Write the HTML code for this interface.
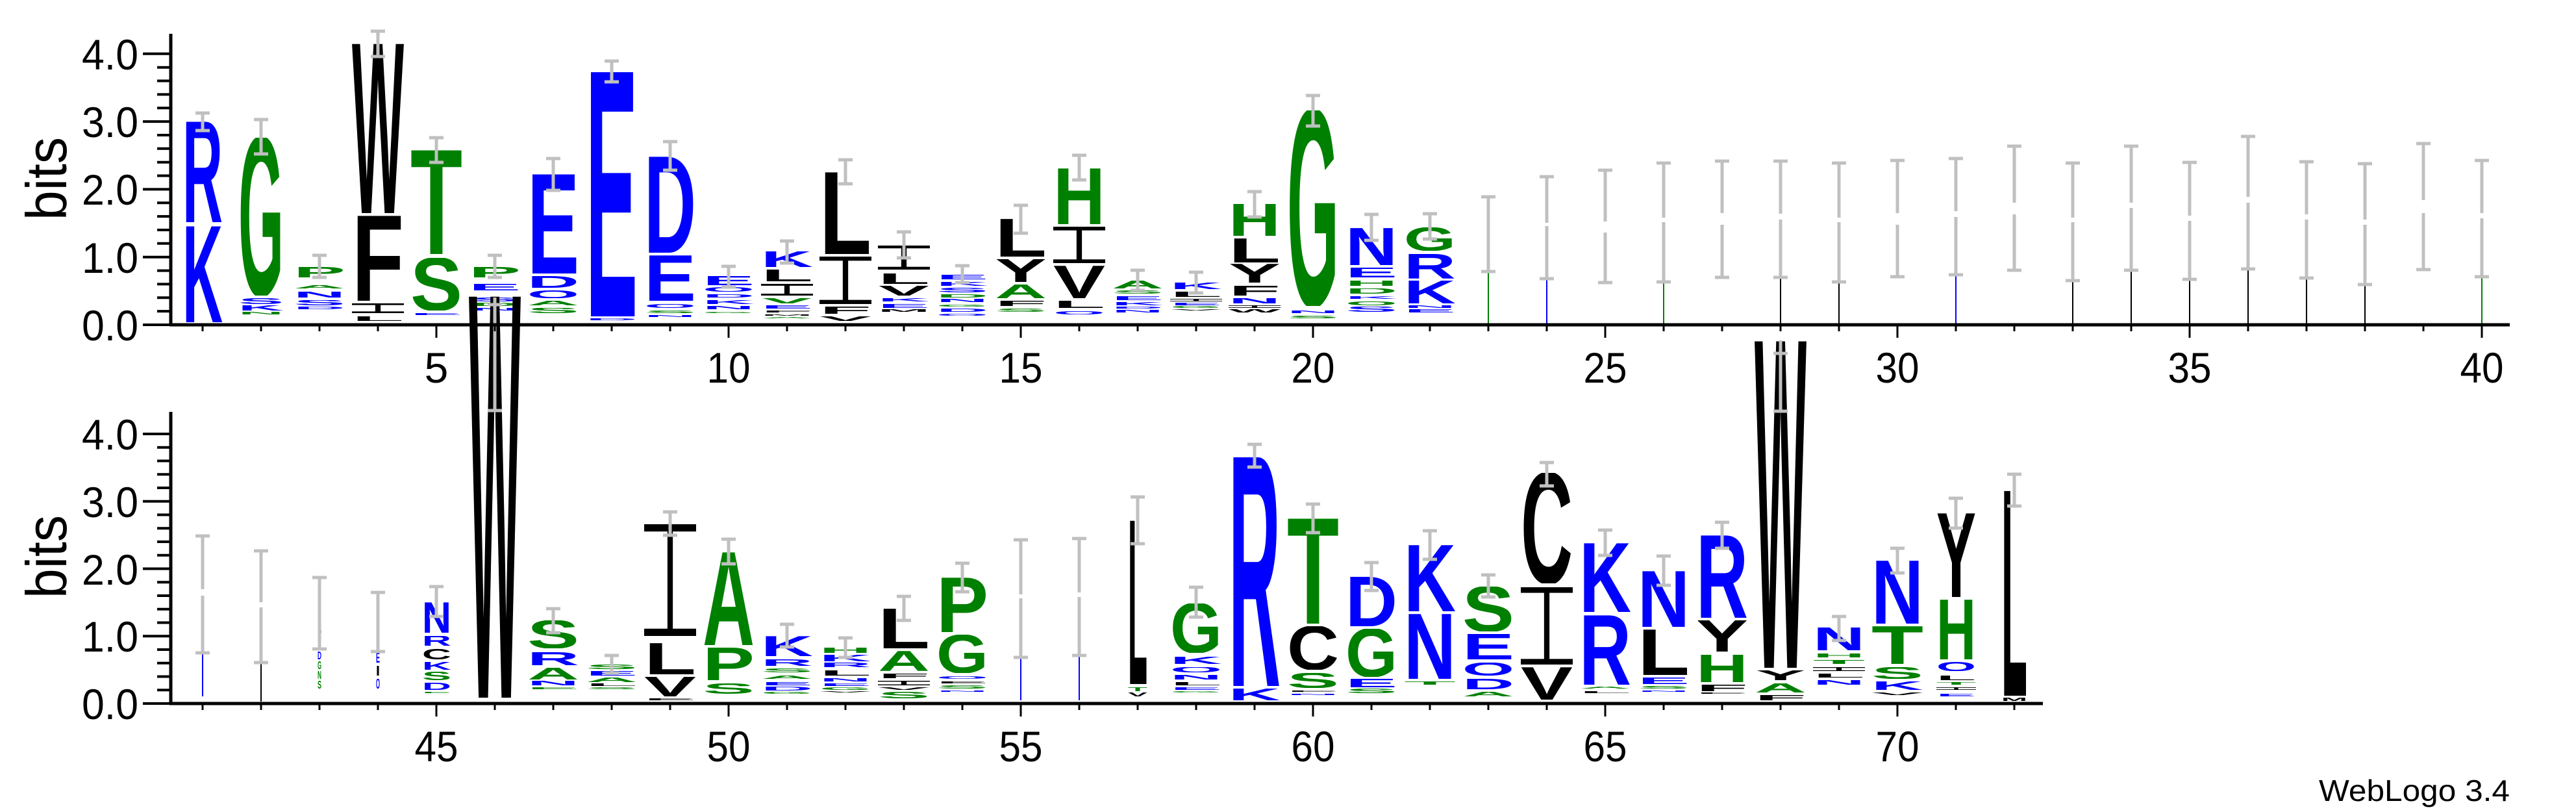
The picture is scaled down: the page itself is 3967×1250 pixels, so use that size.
<!DOCTYPE html>
<html><head><meta charset="utf-8"><style>
html,body{margin:0;padding:0;background:#fff;}
svg{display:block}
text{font-family:"Liberation Sans",Arial,sans-serif;}
.L text{font-weight:bold;font-size:100px;}
.b{fill:#0000ff}.g{fill:#008000}.k{fill:#000}
.ax{font-size:66px;fill:#000}
</style></head><body>
<svg width="3967" height="1250" viewBox="0 0 3967 1250" xmlns="http://www.w3.org/2000/svg">
<rect width="3967" height="1250" fill="#fff"/>
<g class="L">
<!-- top panel -->
<svg x="281" y="348" width="62" height="148" viewBox="0 -69 100 69" preserveAspectRatio="none"><text textLength="100" lengthAdjust="spacingAndGlyphs" class="b">K</text></svg>
<svg x="281" y="187" width="62" height="155" viewBox="0 -69 100 69" preserveAspectRatio="none"><text textLength="100" lengthAdjust="spacingAndGlyphs" class="b">R</text></svg>
<svg x="367" y="212" width="70" height="243" viewBox="0 -69 100 69" preserveAspectRatio="none"><text textLength="100" lengthAdjust="spacingAndGlyphs" class="g">G</text></svg>
<svg x="367" y="459" width="70" height="9" viewBox="0 -69 100 69" preserveAspectRatio="none"><text textLength="100" lengthAdjust="spacingAndGlyphs" class="b">S</text></svg>
<svg x="367" y="470" width="70" height="8" viewBox="0 -69 100 69" preserveAspectRatio="none"><text textLength="100" lengthAdjust="spacingAndGlyphs" class="b">K</text></svg>
<svg x="367" y="480" width="70" height="4" viewBox="0 -69 100 69" preserveAspectRatio="none"><text textLength="100" lengthAdjust="spacingAndGlyphs" class="g">N</text></svg>
<svg x="452" y="411" width="80" height="16" viewBox="0 -69 100 69" preserveAspectRatio="none"><text textLength="100" lengthAdjust="spacingAndGlyphs" class="g">P</text></svg>
<svg x="452" y="439" width="80" height="5" viewBox="0 -69 100 69" preserveAspectRatio="none"><text textLength="100" lengthAdjust="spacingAndGlyphs" class="g">A</text></svg>
<svg x="452" y="449" width="80" height="9" viewBox="0 -69 100 69" preserveAspectRatio="none"><text textLength="100" lengthAdjust="spacingAndGlyphs" class="b">N</text></svg>
<svg x="452" y="462" width="80" height="8" viewBox="0 -69 100 69" preserveAspectRatio="none"><text textLength="100" lengthAdjust="spacingAndGlyphs" class="b">S</text></svg>
<svg x="452" y="472" width="80" height="4" viewBox="0 -69 100 69" preserveAspectRatio="none"><text textLength="100" lengthAdjust="spacingAndGlyphs" class="b">D</text></svg>
<svg x="542" y="67" width="80" height="261" viewBox="0 -69 100 69" preserveAspectRatio="none"><text textLength="100" lengthAdjust="spacingAndGlyphs" class="k">W</text></svg>
<svg x="542" y="332" width="80" height="131" viewBox="0 -69 100 69" preserveAspectRatio="none"><text textLength="100" lengthAdjust="spacingAndGlyphs" class="k">F</text></svg>
<svg x="542" y="467" width="80" height="15" viewBox="0 -69 100 69" preserveAspectRatio="none"><rect y="-69" width="100" height="12"/><rect y="-12" width="100" height="12"/><text x="40" textLength="20" lengthAdjust="spacingAndGlyphs" class="k">I</text></svg>
<svg x="542" y="487" width="80" height="7" viewBox="0 -69 100 69" preserveAspectRatio="none"><text textLength="100" lengthAdjust="spacingAndGlyphs" class="k">L</text></svg>
<svg x="632" y="231" width="80" height="160" viewBox="0 -69 100 69" preserveAspectRatio="none"><text textLength="100" lengthAdjust="spacingAndGlyphs" class="g">T</text></svg>
<svg x="632" y="397" width="80" height="81" viewBox="0 -69 100 69" preserveAspectRatio="none"><text textLength="100" lengthAdjust="spacingAndGlyphs" class="g">S</text></svg>
<svg x="632" y="482" width="80" height="3" viewBox="0 -69 100 69" preserveAspectRatio="none"><text textLength="100" lengthAdjust="spacingAndGlyphs" class="b">E</text></svg>
<svg x="722" y="411" width="80" height="16" viewBox="0 -69 100 69" preserveAspectRatio="none"><text textLength="100" lengthAdjust="spacingAndGlyphs" class="g">P</text></svg>
<svg x="722" y="437" width="80" height="10" viewBox="0 -69 100 69" preserveAspectRatio="none"><text textLength="100" lengthAdjust="spacingAndGlyphs" class="b">E</text></svg>
<svg x="722" y="458" width="80" height="6" viewBox="0 -69 100 69" preserveAspectRatio="none"><text textLength="100" lengthAdjust="spacingAndGlyphs" class="b">S</text></svg>
<svg x="722" y="466" width="80" height="5" viewBox="0 -69 100 69" preserveAspectRatio="none"><text textLength="100" lengthAdjust="spacingAndGlyphs" class="g">D</text></svg>
<svg x="722" y="474" width="80" height="4" viewBox="0 -69 100 69" preserveAspectRatio="none"><text textLength="100" lengthAdjust="spacingAndGlyphs" class="b">N</text></svg>
<svg x="812" y="268" width="80" height="153" viewBox="0 -69 100 69" preserveAspectRatio="none"><text textLength="100" lengthAdjust="spacingAndGlyphs" class="b">E</text></svg>
<svg x="812" y="425" width="80" height="18" viewBox="0 -69 100 69" preserveAspectRatio="none"><text textLength="100" lengthAdjust="spacingAndGlyphs" class="b">D</text></svg>
<svg x="812" y="447" width="80" height="12" viewBox="0 -69 100 69" preserveAspectRatio="none"><text textLength="100" lengthAdjust="spacingAndGlyphs" class="b">Q</text></svg>
<svg x="812" y="463" width="80" height="7" viewBox="0 -69 100 69" preserveAspectRatio="none"><text textLength="100" lengthAdjust="spacingAndGlyphs" class="g">A</text></svg>
<svg x="812" y="474" width="80" height="8" viewBox="0 -69 100 69" preserveAspectRatio="none"><text textLength="100" lengthAdjust="spacingAndGlyphs" class="g">S</text></svg>
<svg x="902" y="110" width="80" height="377" viewBox="0 -69 100 69" preserveAspectRatio="none"><text textLength="100" lengthAdjust="spacingAndGlyphs" class="b">E</text></svg>
<svg x="902" y="490" width="80" height="3" viewBox="0 -69 100 69" preserveAspectRatio="none"><text textLength="100" lengthAdjust="spacingAndGlyphs" class="b">D</text></svg>
<svg x="992" y="241" width="80" height="148" viewBox="0 -69 100 69" preserveAspectRatio="none"><text textLength="100" lengthAdjust="spacingAndGlyphs" class="b">D</text></svg>
<svg x="992" y="393" width="80" height="70" viewBox="0 -69 100 69" preserveAspectRatio="none"><text textLength="100" lengthAdjust="spacingAndGlyphs" class="b">E</text></svg>
<svg x="992" y="468" width="80" height="6" viewBox="0 -69 100 69" preserveAspectRatio="none"><text textLength="100" lengthAdjust="spacingAndGlyphs" class="b">Q</text></svg>
<svg x="992" y="478" width="80" height="4" viewBox="0 -69 100 69" preserveAspectRatio="none"><text textLength="100" lengthAdjust="spacingAndGlyphs" class="g">S</text></svg>
<svg x="992" y="485" width="80" height="3" viewBox="0 -69 100 69" preserveAspectRatio="none"><text textLength="100" lengthAdjust="spacingAndGlyphs" class="b">N</text></svg>
<svg x="1082" y="425" width="80" height="14" viewBox="0 -69 100 69" preserveAspectRatio="none"><text textLength="100" lengthAdjust="spacingAndGlyphs" class="b">E</text></svg>
<svg x="1082" y="442" width="80" height="7" viewBox="0 -69 100 69" preserveAspectRatio="none"><text textLength="100" lengthAdjust="spacingAndGlyphs" class="b">Q</text></svg>
<svg x="1082" y="453" width="80" height="5" viewBox="0 -69 100 69" preserveAspectRatio="none"><text textLength="100" lengthAdjust="spacingAndGlyphs" class="b">D</text></svg>
<svg x="1082" y="462" width="80" height="6" viewBox="0 -69 100 69" preserveAspectRatio="none"><text textLength="100" lengthAdjust="spacingAndGlyphs" class="b">K</text></svg>
<svg x="1082" y="471" width="80" height="5" viewBox="0 -69 100 69" preserveAspectRatio="none"><text textLength="100" lengthAdjust="spacingAndGlyphs" class="b">N</text></svg>
<svg x="1082" y="480" width="80" height="2" viewBox="0 -69 100 69" preserveAspectRatio="none"><text textLength="100" lengthAdjust="spacingAndGlyphs" class="g">G</text></svg>
<svg x="1172" y="387" width="80" height="24" viewBox="0 -69 100 69" preserveAspectRatio="none"><text textLength="100" lengthAdjust="spacingAndGlyphs" class="b">K</text></svg>
<svg x="1172" y="415" width="80" height="18" viewBox="0 -69 100 69" preserveAspectRatio="none"><text textLength="100" lengthAdjust="spacingAndGlyphs" class="k">L</text></svg>
<svg x="1172" y="437" width="80" height="18" viewBox="0 -69 100 69" preserveAspectRatio="none"><rect y="-69" width="100" height="11"/><rect y="-11" width="100" height="11"/><text x="40" textLength="20" lengthAdjust="spacingAndGlyphs" class="k">I</text></svg>
<svg x="1172" y="459" width="80" height="8" viewBox="0 -69 100 69" preserveAspectRatio="none"><text textLength="100" lengthAdjust="spacingAndGlyphs" class="g">V</text></svg>
<svg x="1172" y="470" width="80" height="5" viewBox="0 -69 100 69" preserveAspectRatio="none"><text textLength="100" lengthAdjust="spacingAndGlyphs" class="b">E</text></svg>
<svg x="1172" y="478" width="80" height="3" viewBox="0 -69 100 69" preserveAspectRatio="none"><text textLength="100" lengthAdjust="spacingAndGlyphs" class="k">F</text></svg>
<svg x="1172" y="484" width="80" height="2" viewBox="0 -69 100 69" preserveAspectRatio="none"><text textLength="100" lengthAdjust="spacingAndGlyphs" class="k">M</text></svg>
<svg x="1172" y="488" width="80" height="2" viewBox="0 -69 100 69" preserveAspectRatio="none"><text textLength="100" lengthAdjust="spacingAndGlyphs" class="g">A</text></svg>
<svg x="1262" y="265" width="80" height="126" viewBox="0 -69 100 69" preserveAspectRatio="none"><text textLength="100" lengthAdjust="spacingAndGlyphs" class="k">L</text></svg>
<svg x="1262" y="395" width="80" height="73" viewBox="0 -69 100 69" preserveAspectRatio="none"><rect y="-69" width="100" height="6"/><rect y="-6" width="100" height="6"/><text x="40" textLength="20" lengthAdjust="spacingAndGlyphs" class="k">I</text></svg>
<svg x="1262" y="472" width="80" height="11" viewBox="0 -69 100 69" preserveAspectRatio="none"><text textLength="100" lengthAdjust="spacingAndGlyphs" class="k">F</text></svg>
<svg x="1262" y="487" width="80" height="7" viewBox="0 -69 100 69" preserveAspectRatio="none"><text textLength="100" lengthAdjust="spacingAndGlyphs" class="k">V</text></svg>
<svg x="1352" y="378" width="80" height="37" viewBox="0 -69 100 69" preserveAspectRatio="none"><rect y="-69" width="100" height="8"/><rect y="-8" width="100" height="8"/><text x="40" textLength="20" lengthAdjust="spacingAndGlyphs" class="k">I</text></svg>
<svg x="1352" y="421" width="80" height="16" viewBox="0 -69 100 69" preserveAspectRatio="none"><text textLength="100" lengthAdjust="spacingAndGlyphs" class="k">L</text></svg>
<svg x="1352" y="440" width="80" height="15" viewBox="0 -69 100 69" preserveAspectRatio="none"><text textLength="100" lengthAdjust="spacingAndGlyphs" class="k">V</text></svg>
<svg x="1352" y="459" width="80" height="5" viewBox="0 -69 100 69" preserveAspectRatio="none"><text textLength="100" lengthAdjust="spacingAndGlyphs" class="b">K</text></svg>
<svg x="1352" y="468" width="80" height="6" viewBox="0 -69 100 69" preserveAspectRatio="none"><text textLength="100" lengthAdjust="spacingAndGlyphs" class="b">E</text></svg>
<svg x="1352" y="476" width="80" height="4" viewBox="0 -69 100 69" preserveAspectRatio="none"><text textLength="100" lengthAdjust="spacingAndGlyphs" class="k">M</text></svg>
<svg x="1442" y="423" width="80" height="7" viewBox="0 -69 100 69" preserveAspectRatio="none"><text textLength="100" lengthAdjust="spacingAndGlyphs" class="b">E</text></svg>
<svg x="1442" y="434" width="80" height="6" viewBox="0 -69 100 69" preserveAspectRatio="none"><text textLength="100" lengthAdjust="spacingAndGlyphs" class="b">K</text></svg>
<svg x="1442" y="443" width="80" height="7" viewBox="0 -69 100 69" preserveAspectRatio="none"><text textLength="100" lengthAdjust="spacingAndGlyphs" class="b">S</text></svg>
<svg x="1442" y="453" width="80" height="5" viewBox="0 -69 100 69" preserveAspectRatio="none"><text textLength="100" lengthAdjust="spacingAndGlyphs" class="g">D</text></svg>
<svg x="1442" y="460" width="80" height="5" viewBox="0 -69 100 69" preserveAspectRatio="none"><text textLength="100" lengthAdjust="spacingAndGlyphs" class="b">N</text></svg>
<svg x="1442" y="469" width="80" height="3" viewBox="0 -69 100 69" preserveAspectRatio="none"><text textLength="100" lengthAdjust="spacingAndGlyphs" class="g">G</text></svg>
<svg x="1442" y="475" width="80" height="5" viewBox="0 -69 100 69" preserveAspectRatio="none"><text textLength="100" lengthAdjust="spacingAndGlyphs" class="b">D</text></svg>
<svg x="1442" y="483" width="80" height="3" viewBox="0 -69 100 69" preserveAspectRatio="none"><text textLength="100" lengthAdjust="spacingAndGlyphs" class="b">Q</text></svg>
<svg x="1532" y="337" width="80" height="58" viewBox="0 -69 100 69" preserveAspectRatio="none"><text textLength="100" lengthAdjust="spacingAndGlyphs" class="k">L</text></svg>
<svg x="1532" y="399" width="80" height="35" viewBox="0 -69 100 69" preserveAspectRatio="none"><text textLength="100" lengthAdjust="spacingAndGlyphs" class="k">Y</text></svg>
<svg x="1532" y="438" width="80" height="21" viewBox="0 -69 100 69" preserveAspectRatio="none"><text textLength="100" lengthAdjust="spacingAndGlyphs" class="g">A</text></svg>
<svg x="1532" y="463" width="80" height="8" viewBox="0 -69 100 69" preserveAspectRatio="none"><text textLength="100" lengthAdjust="spacingAndGlyphs" class="k">F</text></svg>
<svg x="1532" y="475" width="80" height="5" viewBox="0 -69 100 69" preserveAspectRatio="none"><text textLength="100" lengthAdjust="spacingAndGlyphs" class="g">S</text></svg>
<svg x="1622" y="259" width="80" height="86" viewBox="0 -69 100 69" preserveAspectRatio="none"><text textLength="100" lengthAdjust="spacingAndGlyphs" class="g">H</text></svg>
<svg x="1622" y="349" width="80" height="56" viewBox="0 -69 100 69" preserveAspectRatio="none"><rect y="-69" width="100" height="7"/><rect y="-7" width="100" height="7"/><text x="40" textLength="20" lengthAdjust="spacingAndGlyphs" class="k">I</text></svg>
<svg x="1622" y="409" width="80" height="50" viewBox="0 -69 100 69" preserveAspectRatio="none"><text textLength="100" lengthAdjust="spacingAndGlyphs" class="k">V</text></svg>
<svg x="1622" y="463" width="80" height="11" viewBox="0 -69 100 69" preserveAspectRatio="none"><text textLength="100" lengthAdjust="spacingAndGlyphs" class="k">L</text></svg>
<svg x="1622" y="479" width="80" height="5" viewBox="0 -69 100 69" preserveAspectRatio="none"><text textLength="100" lengthAdjust="spacingAndGlyphs" class="b">Q</text></svg>
<svg x="1712" y="432" width="80" height="12" viewBox="0 -69 100 69" preserveAspectRatio="none"><text textLength="100" lengthAdjust="spacingAndGlyphs" class="g">A</text></svg>
<svg x="1712" y="447" width="80" height="5" viewBox="0 -69 100 69" preserveAspectRatio="none"><text textLength="100" lengthAdjust="spacingAndGlyphs" class="g">S</text></svg>
<svg x="1712" y="456" width="80" height="6" viewBox="0 -69 100 69" preserveAspectRatio="none"><text textLength="100" lengthAdjust="spacingAndGlyphs" class="b">E</text></svg>
<svg x="1712" y="465" width="80" height="5" viewBox="0 -69 100 69" preserveAspectRatio="none"><text textLength="100" lengthAdjust="spacingAndGlyphs" class="b">K</text></svg>
<svg x="1712" y="472" width="80" height="3" viewBox="0 -69 100 69" preserveAspectRatio="none"><text textLength="100" lengthAdjust="spacingAndGlyphs" class="b">D</text></svg>
<svg x="1712" y="477" width="80" height="4" viewBox="0 -69 100 69" preserveAspectRatio="none"><text textLength="100" lengthAdjust="spacingAndGlyphs" class="b">N</text></svg>
<svg x="1802" y="435" width="80" height="10" viewBox="0 -69 100 69" preserveAspectRatio="none"><text textLength="100" lengthAdjust="spacingAndGlyphs" class="b">K</text></svg>
<svg x="1802" y="449" width="80" height="8" viewBox="0 -69 100 69" preserveAspectRatio="none"><text textLength="100" lengthAdjust="spacingAndGlyphs" class="k">L</text></svg>
<svg x="1802" y="460" width="80" height="4" viewBox="0 -69 100 69" preserveAspectRatio="none"><rect y="-69" width="100" height="15"/><rect y="-15" width="100" height="15"/><text x="40" textLength="20" lengthAdjust="spacingAndGlyphs" class="k">I</text></svg>
<svg x="1802" y="466" width="80" height="4" viewBox="0 -69 100 69" preserveAspectRatio="none"><text textLength="100" lengthAdjust="spacingAndGlyphs" class="b">E</text></svg>
<svg x="1802" y="471" width="80" height="3" viewBox="0 -69 100 69" preserveAspectRatio="none"><text textLength="100" lengthAdjust="spacingAndGlyphs" class="g">G</text></svg>
<svg x="1802" y="476" width="80" height="2" viewBox="0 -69 100 69" preserveAspectRatio="none"><text textLength="100" lengthAdjust="spacingAndGlyphs" class="k">V</text></svg>
<svg x="1892" y="314" width="80" height="49" viewBox="0 -69 100 69" preserveAspectRatio="none"><text textLength="100" lengthAdjust="spacingAndGlyphs" class="g">H</text></svg>
<svg x="1892" y="367" width="80" height="37" viewBox="0 -69 100 69" preserveAspectRatio="none"><text textLength="100" lengthAdjust="spacingAndGlyphs" class="k">L</text></svg>
<svg x="1892" y="406" width="80" height="29" viewBox="0 -69 100 69" preserveAspectRatio="none"><text textLength="100" lengthAdjust="spacingAndGlyphs" class="k">Y</text></svg>
<svg x="1892" y="440" width="80" height="15" viewBox="0 -69 100 69" preserveAspectRatio="none"><text textLength="100" lengthAdjust="spacingAndGlyphs" class="k">F</text></svg>
<svg x="1892" y="459" width="80" height="8" viewBox="0 -69 100 69" preserveAspectRatio="none"><text textLength="100" lengthAdjust="spacingAndGlyphs" class="b">N</text></svg>
<svg x="1892" y="470" width="80" height="4" viewBox="0 -69 100 69" preserveAspectRatio="none"><rect y="-69" width="100" height="15"/><rect y="-15" width="100" height="15"/><text x="40" textLength="20" lengthAdjust="spacingAndGlyphs" class="k">I</text></svg>
<svg x="1892" y="476" width="80" height="5" viewBox="0 -69 100 69" preserveAspectRatio="none"><text textLength="100" lengthAdjust="spacingAndGlyphs" class="k">W</text></svg>
<svg x="1982" y="170" width="80" height="301" viewBox="0 -69 100 69" preserveAspectRatio="none"><text textLength="100" lengthAdjust="spacingAndGlyphs" class="g">G</text></svg>
<svg x="1982" y="478" width="80" height="4" viewBox="0 -69 100 69" preserveAspectRatio="none"><text textLength="100" lengthAdjust="spacingAndGlyphs" class="b">N</text></svg>
<svg x="1982" y="486" width="80" height="4" viewBox="0 -69 100 69" preserveAspectRatio="none"><text textLength="100" lengthAdjust="spacingAndGlyphs" class="g">S</text></svg>
<svg x="2072" y="351" width="80" height="57" viewBox="0 -69 100 69" preserveAspectRatio="none"><text textLength="100" lengthAdjust="spacingAndGlyphs" class="b">N</text></svg>
<svg x="2072" y="412" width="80" height="15" viewBox="0 -69 100 69" preserveAspectRatio="none"><text textLength="100" lengthAdjust="spacingAndGlyphs" class="b">E</text></svg>
<svg x="2072" y="432" width="80" height="8" viewBox="0 -69 100 69" preserveAspectRatio="none"><text textLength="100" lengthAdjust="spacingAndGlyphs" class="g">H</text></svg>
<svg x="2072" y="444" width="80" height="8" viewBox="0 -69 100 69" preserveAspectRatio="none"><text textLength="100" lengthAdjust="spacingAndGlyphs" class="g">D</text></svg>
<svg x="2072" y="456" width="80" height="4" viewBox="0 -69 100 69" preserveAspectRatio="none"><text textLength="100" lengthAdjust="spacingAndGlyphs" class="b">K</text></svg>
<svg x="2072" y="464" width="80" height="6" viewBox="0 -69 100 69" preserveAspectRatio="none"><text textLength="100" lengthAdjust="spacingAndGlyphs" class="g">Q</text></svg>
<svg x="2072" y="472" width="80" height="8" viewBox="0 -69 100 69" preserveAspectRatio="none"><text textLength="100" lengthAdjust="spacingAndGlyphs" class="b">S</text></svg>
<svg x="2162" y="350" width="80" height="36" viewBox="0 -69 100 69" preserveAspectRatio="none"><text textLength="100" lengthAdjust="spacingAndGlyphs" class="g">G</text></svg>
<svg x="2162" y="391" width="80" height="38" viewBox="0 -69 100 69" preserveAspectRatio="none"><text textLength="100" lengthAdjust="spacingAndGlyphs" class="b">R</text></svg>
<svg x="2162" y="432" width="80" height="35" viewBox="0 -69 100 69" preserveAspectRatio="none"><text textLength="100" lengthAdjust="spacingAndGlyphs" class="b">K</text></svg>
<svg x="2162" y="470" width="80" height="4" viewBox="0 -69 100 69" preserveAspectRatio="none"><text textLength="100" lengthAdjust="spacingAndGlyphs" class="b">N</text></svg>
<svg x="2162" y="476" width="80" height="5" viewBox="0 -69 100 69" preserveAspectRatio="none"><text textLength="100" lengthAdjust="spacingAndGlyphs" class="b">E</text></svg>

<!-- bottom panel -->
<svg x="489" y="945" width="6" height="30" viewBox="0 -69 100 69" preserveAspectRatio="none"><text textLength="100" lengthAdjust="spacingAndGlyphs" class="b">L</text></svg>
<svg x="489" y="980" width="6" height="20" viewBox="0 -69 100 69" preserveAspectRatio="none"><text textLength="100" lengthAdjust="spacingAndGlyphs" class="b">K</text></svg>
<svg x="489" y="1003" width="6" height="12" viewBox="0 -69 100 69" preserveAspectRatio="none"><text textLength="100" lengthAdjust="spacingAndGlyphs" class="b">D</text></svg>
<svg x="489" y="1018" width="6" height="12" viewBox="0 -69 100 69" preserveAspectRatio="none"><text textLength="100" lengthAdjust="spacingAndGlyphs" class="g">G</text></svg>
<svg x="489" y="1033" width="6" height="12" viewBox="0 -69 100 69" preserveAspectRatio="none"><text textLength="100" lengthAdjust="spacingAndGlyphs" class="g">N</text></svg>
<svg x="489" y="1048" width="6" height="12" viewBox="0 -69 100 69" preserveAspectRatio="none"><text textLength="100" lengthAdjust="spacingAndGlyphs" class="g">S</text></svg>
<svg x="579" y="960" width="6" height="40" viewBox="0 -69 100 69" preserveAspectRatio="none"><text textLength="100" lengthAdjust="spacingAndGlyphs" class="b">N</text></svg>
<svg x="579" y="1005" width="6" height="15" viewBox="0 -69 100 69" preserveAspectRatio="none"><text textLength="100" lengthAdjust="spacingAndGlyphs" class="b">E</text></svg>
<svg x="579" y="1025" width="6" height="15" viewBox="0 -69 100 69" preserveAspectRatio="none"><text textLength="100" lengthAdjust="spacingAndGlyphs" class="k">I</text></svg>
<svg x="579" y="1045" width="6" height="15" viewBox="0 -69 100 69" preserveAspectRatio="none"><text textLength="100" lengthAdjust="spacingAndGlyphs" class="b">Q</text></svg>
<svg x="650" y="927" width="45" height="47" viewBox="0 -69 100 69" preserveAspectRatio="none"><text textLength="100" lengthAdjust="spacingAndGlyphs" class="b">N</text></svg>
<svg x="650" y="979" width="45" height="15" viewBox="0 -69 100 69" preserveAspectRatio="none"><text textLength="100" lengthAdjust="spacingAndGlyphs" class="b">R</text></svg>
<svg x="650" y="999" width="45" height="16" viewBox="0 -69 100 69" preserveAspectRatio="none"><text textLength="100" lengthAdjust="spacingAndGlyphs" class="k">C</text></svg>
<svg x="650" y="1019" width="45" height="12" viewBox="0 -69 100 69" preserveAspectRatio="none"><text textLength="100" lengthAdjust="spacingAndGlyphs" class="b">K</text></svg>
<svg x="650" y="1034" width="45" height="13" viewBox="0 -69 100 69" preserveAspectRatio="none"><text textLength="100" lengthAdjust="spacingAndGlyphs" class="g">S</text></svg>
<svg x="650" y="1051" width="45" height="11" viewBox="0 -69 100 69" preserveAspectRatio="none"><text textLength="100" lengthAdjust="spacingAndGlyphs" class="b">D</text></svg>
<svg x="650" y="1065" width="45" height="2" viewBox="0 -69 100 69" preserveAspectRatio="none"><text textLength="100" lengthAdjust="spacingAndGlyphs" class="g">E</text></svg>
<svg x="722" y="455" width="80" height="619" viewBox="0 -69 100 69" preserveAspectRatio="none"><text textLength="100" lengthAdjust="spacingAndGlyphs" class="k">W</text></svg>
<svg x="812" y="955" width="80" height="43" viewBox="0 -69 100 69" preserveAspectRatio="none"><text textLength="100" lengthAdjust="spacingAndGlyphs" class="g">S</text></svg>
<svg x="812" y="1004" width="80" height="20" viewBox="0 -69 100 69" preserveAspectRatio="none"><text textLength="100" lengthAdjust="spacingAndGlyphs" class="b">R</text></svg>
<svg x="812" y="1028" width="80" height="18" viewBox="0 -69 100 69" preserveAspectRatio="none"><text textLength="100" lengthAdjust="spacingAndGlyphs" class="g">A</text></svg>
<svg x="812" y="1048" width="80" height="7" viewBox="0 -69 100 69" preserveAspectRatio="none"><text textLength="100" lengthAdjust="spacingAndGlyphs" class="b">N</text></svg>
<svg x="812" y="1058" width="80" height="3" viewBox="0 -69 100 69" preserveAspectRatio="none"><text textLength="100" lengthAdjust="spacingAndGlyphs" class="g">E</text></svg>
<svg x="902" y="1023" width="80" height="7" viewBox="0 -69 100 69" preserveAspectRatio="none"><text textLength="100" lengthAdjust="spacingAndGlyphs" class="g">S</text></svg>
<svg x="902" y="1033" width="80" height="7" viewBox="0 -69 100 69" preserveAspectRatio="none"><text textLength="100" lengthAdjust="spacingAndGlyphs" class="b">E</text></svg>
<svg x="902" y="1043" width="80" height="7" viewBox="0 -69 100 69" preserveAspectRatio="none"><text textLength="100" lengthAdjust="spacingAndGlyphs" class="g">A</text></svg>
<svg x="902" y="1052" width="80" height="4" viewBox="0 -69 100 69" preserveAspectRatio="none"><text textLength="100" lengthAdjust="spacingAndGlyphs" class="k">L</text></svg>
<svg x="902" y="1058" width="80" height="3" viewBox="0 -69 100 69" preserveAspectRatio="none"><text textLength="100" lengthAdjust="spacingAndGlyphs" class="g">S</text></svg>
<svg x="992" y="807" width="80" height="172" viewBox="0 -69 100 69" preserveAspectRatio="none"><rect y="-69" width="100" height="4.5"/><rect y="-4.5" width="100" height="4.5"/><text x="40" textLength="20" lengthAdjust="spacingAndGlyphs" class="k">I</text></svg>
<svg x="992" y="990" width="80" height="48" viewBox="0 -69 100 69" preserveAspectRatio="none"><text textLength="100" lengthAdjust="spacingAndGlyphs" class="k">L</text></svg>
<svg x="992" y="1042" width="80" height="30" viewBox="0 -69 100 69" preserveAspectRatio="none"><text textLength="100" lengthAdjust="spacingAndGlyphs" class="k">V</text></svg>
<svg x="992" y="1075" width="80" height="3" viewBox="0 -69 100 69" preserveAspectRatio="none"><text textLength="100" lengthAdjust="spacingAndGlyphs" class="k">E</text></svg>
<svg x="1082" y="850" width="80" height="143" viewBox="0 -69 100 69" preserveAspectRatio="none"><text textLength="100" lengthAdjust="spacingAndGlyphs" class="g">A</text></svg>
<svg x="1082" y="997" width="80" height="50" viewBox="0 -69 100 69" preserveAspectRatio="none"><text textLength="100" lengthAdjust="spacingAndGlyphs" class="g">P</text></svg>
<svg x="1082" y="1052" width="80" height="16" viewBox="0 -69 100 69" preserveAspectRatio="none"><text textLength="100" lengthAdjust="spacingAndGlyphs" class="g">S</text></svg>
<svg x="1172" y="979" width="80" height="31" viewBox="0 -69 100 69" preserveAspectRatio="none"><text textLength="100" lengthAdjust="spacingAndGlyphs" class="b">K</text></svg>
<svg x="1172" y="1015" width="80" height="10" viewBox="0 -69 100 69" preserveAspectRatio="none"><text textLength="100" lengthAdjust="spacingAndGlyphs" class="b">R</text></svg>
<svg x="1172" y="1029" width="80" height="6" viewBox="0 -69 100 69" preserveAspectRatio="none"><text textLength="100" lengthAdjust="spacingAndGlyphs" class="g">S</text></svg>
<svg x="1172" y="1040" width="80" height="5" viewBox="0 -69 100 69" preserveAspectRatio="none"><text textLength="100" lengthAdjust="spacingAndGlyphs" class="g">A</text></svg>
<svg x="1172" y="1050" width="80" height="5" viewBox="0 -69 100 69" preserveAspectRatio="none"><text textLength="100" lengthAdjust="spacingAndGlyphs" class="b">E</text></svg>
<svg x="1172" y="1057" width="80" height="6" viewBox="0 -69 100 69" preserveAspectRatio="none"><text textLength="100" lengthAdjust="spacingAndGlyphs" class="b">D</text></svg>
<svg x="1172" y="1065" width="80" height="3" viewBox="0 -69 100 69" preserveAspectRatio="none"><text textLength="100" lengthAdjust="spacingAndGlyphs" class="g">G</text></svg>
<svg x="1262" y="997" width="80" height="8" viewBox="0 -69 100 69" preserveAspectRatio="none"><text textLength="100" lengthAdjust="spacingAndGlyphs" class="g">H</text></svg>
<svg x="1262" y="1008" width="80" height="10" viewBox="0 -69 100 69" preserveAspectRatio="none"><text textLength="100" lengthAdjust="spacingAndGlyphs" class="b">K</text></svg>
<svg x="1262" y="1020" width="80" height="7" viewBox="0 -69 100 69" preserveAspectRatio="none"><text textLength="100" lengthAdjust="spacingAndGlyphs" class="b">R</text></svg>
<svg x="1262" y="1032" width="80" height="8" viewBox="0 -69 100 69" preserveAspectRatio="none"><text textLength="100" lengthAdjust="spacingAndGlyphs" class="k">L</text></svg>
<svg x="1262" y="1044" width="80" height="5" viewBox="0 -69 100 69" preserveAspectRatio="none"><text textLength="100" lengthAdjust="spacingAndGlyphs" class="b">N</text></svg>
<svg x="1262" y="1052" width="80" height="4" viewBox="0 -69 100 69" preserveAspectRatio="none"><text textLength="100" lengthAdjust="spacingAndGlyphs" class="b">E</text></svg>
<svg x="1262" y="1058" width="80" height="4" viewBox="0 -69 100 69" preserveAspectRatio="none"><text textLength="100" lengthAdjust="spacingAndGlyphs" class="g">G</text></svg>
<svg x="1262" y="1064" width="80" height="2" viewBox="0 -69 100 69" preserveAspectRatio="none"><text textLength="100" lengthAdjust="spacingAndGlyphs" class="k">V</text></svg>
<svg x="1352" y="937" width="80" height="61" viewBox="0 -69 100 69" preserveAspectRatio="none"><text textLength="100" lengthAdjust="spacingAndGlyphs" class="k">L</text></svg>
<svg x="1352" y="1002" width="80" height="31" viewBox="0 -69 100 69" preserveAspectRatio="none"><text textLength="100" lengthAdjust="spacingAndGlyphs" class="g">A</text></svg>
<svg x="1352" y="1037" width="80" height="7" viewBox="0 -69 100 69" preserveAspectRatio="none"><text textLength="100" lengthAdjust="spacingAndGlyphs" class="k">F</text></svg>
<svg x="1352" y="1048" width="80" height="7" viewBox="0 -69 100 69" preserveAspectRatio="none"><rect y="-69" width="100" height="14"/><rect y="-14" width="100" height="14"/><text x="40" textLength="20" lengthAdjust="spacingAndGlyphs" class="k">I</text></svg>
<svg x="1352" y="1058" width="80" height="4" viewBox="0 -69 100 69" preserveAspectRatio="none"><text textLength="100" lengthAdjust="spacingAndGlyphs" class="k">V</text></svg>
<svg x="1352" y="1065" width="80" height="10" viewBox="0 -69 100 69" preserveAspectRatio="none"><text textLength="100" lengthAdjust="spacingAndGlyphs" class="g">S</text></svg>
<svg x="1442" y="889" width="80" height="84" viewBox="0 -69 100 69" preserveAspectRatio="none"><text textLength="100" lengthAdjust="spacingAndGlyphs" class="g">P</text></svg>
<svg x="1442" y="977" width="80" height="59" viewBox="0 -69 100 69" preserveAspectRatio="none"><text textLength="100" lengthAdjust="spacingAndGlyphs" class="g">G</text></svg>
<svg x="1442" y="1041" width="80" height="4" viewBox="0 -69 100 69" preserveAspectRatio="none"><text textLength="100" lengthAdjust="spacingAndGlyphs" class="b">Q</text></svg>
<svg x="1442" y="1049" width="80" height="3" viewBox="0 -69 100 69" preserveAspectRatio="none"><text textLength="100" lengthAdjust="spacingAndGlyphs" class="k">E</text></svg>
<svg x="1442" y="1055" width="80" height="5" viewBox="0 -69 100 69" preserveAspectRatio="none"><text textLength="100" lengthAdjust="spacingAndGlyphs" class="g">S</text></svg>
<svg x="1442" y="1063" width="80" height="2" viewBox="0 -69 100 69" preserveAspectRatio="none"><text textLength="100" lengthAdjust="spacingAndGlyphs" class="b">N</text></svg>
<svg x="1737" y="801" width="30" height="252" viewBox="0 -69 100 69" preserveAspectRatio="none"><text textLength="100" lengthAdjust="spacingAndGlyphs" class="k">L</text></svg>
<svg x="1737" y="1058" width="30" height="6" viewBox="0 -69 100 69" preserveAspectRatio="none"><text textLength="100" lengthAdjust="spacingAndGlyphs" class="g">T</text></svg>
<svg x="1737" y="1066" width="30" height="6" viewBox="0 -69 100 69" preserveAspectRatio="none"><text textLength="100" lengthAdjust="spacingAndGlyphs" class="k">V</text></svg>
<svg x="1802" y="929" width="80" height="76" viewBox="0 -69 100 69" preserveAspectRatio="none"><text textLength="100" lengthAdjust="spacingAndGlyphs" class="g">G</text></svg>
<svg x="1802" y="1011" width="80" height="11" viewBox="0 -69 100 69" preserveAspectRatio="none"><text textLength="100" lengthAdjust="spacingAndGlyphs" class="b">K</text></svg>
<svg x="1802" y="1027" width="80" height="8" viewBox="0 -69 100 69" preserveAspectRatio="none"><text textLength="100" lengthAdjust="spacingAndGlyphs" class="b">Q</text></svg>
<svg x="1802" y="1039" width="80" height="7" viewBox="0 -69 100 69" preserveAspectRatio="none"><text textLength="100" lengthAdjust="spacingAndGlyphs" class="b">N</text></svg>
<svg x="1802" y="1050" width="80" height="5" viewBox="0 -69 100 69" preserveAspectRatio="none"><text textLength="100" lengthAdjust="spacingAndGlyphs" class="k">L</text></svg>
<svg x="1802" y="1058" width="80" height="4" viewBox="0 -69 100 69" preserveAspectRatio="none"><text textLength="100" lengthAdjust="spacingAndGlyphs" class="b">E</text></svg>
<svg x="1802" y="1064" width="80" height="2" viewBox="0 -69 100 69" preserveAspectRatio="none"><text textLength="100" lengthAdjust="spacingAndGlyphs" class="g">G</text></svg>
<svg x="1892" y="703" width="80" height="353" viewBox="0 -69 100 69" preserveAspectRatio="none"><text textLength="100" lengthAdjust="spacingAndGlyphs" class="b">R</text></svg>
<svg x="1892" y="1060" width="80" height="18" viewBox="0 -69 100 69" preserveAspectRatio="none"><text textLength="100" lengthAdjust="spacingAndGlyphs" class="b">K</text></svg>
<svg x="1982" y="798" width="80" height="162" viewBox="0 -69 100 69" preserveAspectRatio="none"><text textLength="100" lengthAdjust="spacingAndGlyphs" class="g">T</text></svg>
<svg x="1982" y="964" width="80" height="67" viewBox="0 -69 100 69" preserveAspectRatio="none"><text textLength="100" lengthAdjust="spacingAndGlyphs" class="k">C</text></svg>
<svg x="1982" y="1036" width="80" height="23" viewBox="0 -69 100 69" preserveAspectRatio="none"><text textLength="100" lengthAdjust="spacingAndGlyphs" class="g">S</text></svg>
<svg x="1982" y="1063" width="80" height="2" viewBox="0 -69 100 69" preserveAspectRatio="none"><text textLength="100" lengthAdjust="spacingAndGlyphs" class="k">E</text></svg>
<svg x="1982" y="1068" width="80" height="2" viewBox="0 -69 100 69" preserveAspectRatio="none"><text textLength="100" lengthAdjust="spacingAndGlyphs" class="b">N</text></svg>
<svg x="2072" y="888" width="80" height="76" viewBox="0 -69 100 69" preserveAspectRatio="none"><text textLength="100" lengthAdjust="spacingAndGlyphs" class="b">D</text></svg>
<svg x="2072" y="968" width="80" height="74" viewBox="0 -69 100 69" preserveAspectRatio="none"><text textLength="100" lengthAdjust="spacingAndGlyphs" class="g">G</text></svg>
<svg x="2072" y="1045" width="80" height="13" viewBox="0 -69 100 69" preserveAspectRatio="none"><text textLength="100" lengthAdjust="spacingAndGlyphs" class="b">E</text></svg>
<svg x="2072" y="1060" width="80" height="7" viewBox="0 -69 100 69" preserveAspectRatio="none"><text textLength="100" lengthAdjust="spacingAndGlyphs" class="g">S</text></svg>
<svg x="2162" y="839" width="80" height="102" viewBox="0 -69 100 69" preserveAspectRatio="none"><text textLength="100" lengthAdjust="spacingAndGlyphs" class="b">K</text></svg>
<svg x="2162" y="945" width="80" height="100" viewBox="0 -69 100 69" preserveAspectRatio="none"><text textLength="100" lengthAdjust="spacingAndGlyphs" class="b">N</text></svg>
<svg x="2162" y="1049" width="80" height="5" viewBox="0 -69 100 69" preserveAspectRatio="none"><text textLength="100" lengthAdjust="spacingAndGlyphs" class="g">T</text></svg>
<svg x="2252" y="903" width="80" height="69" viewBox="0 -69 100 69" preserveAspectRatio="none"><text textLength="100" lengthAdjust="spacingAndGlyphs" class="g">S</text></svg>
<svg x="2252" y="976" width="80" height="39" viewBox="0 -69 100 69" preserveAspectRatio="none"><text textLength="100" lengthAdjust="spacingAndGlyphs" class="b">E</text></svg>
<svg x="2252" y="1020" width="80" height="20" viewBox="0 -69 100 69" preserveAspectRatio="none"><text textLength="100" lengthAdjust="spacingAndGlyphs" class="b">Q</text></svg>
<svg x="2252" y="1045" width="80" height="16" viewBox="0 -69 100 69" preserveAspectRatio="none"><text textLength="100" lengthAdjust="spacingAndGlyphs" class="b">D</text></svg>
<svg x="2252" y="1065" width="80" height="7" viewBox="0 -69 100 69" preserveAspectRatio="none"><text textLength="100" lengthAdjust="spacingAndGlyphs" class="g">A</text></svg>
<svg x="2342" y="728" width="80" height="170" viewBox="0 -69 100 69" preserveAspectRatio="none"><text textLength="100" lengthAdjust="spacingAndGlyphs" class="k">C</text></svg>
<svg x="2342" y="904" width="80" height="119" viewBox="0 -69 100 69" preserveAspectRatio="none"><rect y="-69" width="100" height="5"/><rect y="-5" width="100" height="5"/><text x="40" textLength="20" lengthAdjust="spacingAndGlyphs" class="k">I</text></svg>
<svg x="2342" y="1027" width="80" height="50" viewBox="0 -69 100 69" preserveAspectRatio="none"><text textLength="100" lengthAdjust="spacingAndGlyphs" class="k">V</text></svg>
<svg x="2432" y="836" width="80" height="106" viewBox="0 -69 100 69" preserveAspectRatio="none"><text textLength="100" lengthAdjust="spacingAndGlyphs" class="b">K</text></svg>
<svg x="2432" y="947" width="80" height="107" viewBox="0 -69 100 69" preserveAspectRatio="none"><text textLength="100" lengthAdjust="spacingAndGlyphs" class="b">R</text></svg>
<svg x="2432" y="1057" width="80" height="3" viewBox="0 -69 100 69" preserveAspectRatio="none"><text textLength="100" lengthAdjust="spacingAndGlyphs" class="g">A</text></svg>
<svg x="2432" y="1064" width="80" height="3" viewBox="0 -69 100 69" preserveAspectRatio="none"><text textLength="100" lengthAdjust="spacingAndGlyphs" class="k">L</text></svg>
<svg x="2522" y="879" width="80" height="86" viewBox="0 -69 100 69" preserveAspectRatio="none"><text textLength="100" lengthAdjust="spacingAndGlyphs" class="b">N</text></svg>
<svg x="2522" y="969" width="80" height="70" viewBox="0 -69 100 69" preserveAspectRatio="none"><text textLength="100" lengthAdjust="spacingAndGlyphs" class="k">L</text></svg>
<svg x="2522" y="1043" width="80" height="10" viewBox="0 -69 100 69" preserveAspectRatio="none"><text textLength="100" lengthAdjust="spacingAndGlyphs" class="b">E</text></svg>
<svg x="2522" y="1056" width="80" height="4" viewBox="0 -69 100 69" preserveAspectRatio="none"><text textLength="100" lengthAdjust="spacingAndGlyphs" class="g">S</text></svg>
<svg x="2522" y="1063" width="80" height="2" viewBox="0 -69 100 69" preserveAspectRatio="none"><text textLength="100" lengthAdjust="spacingAndGlyphs" class="b">N</text></svg>
<svg x="2612" y="824" width="80" height="127" viewBox="0 -69 100 69" preserveAspectRatio="none"><text textLength="100" lengthAdjust="spacingAndGlyphs" class="b">R</text></svg>
<svg x="2612" y="955" width="80" height="48" viewBox="0 -69 100 69" preserveAspectRatio="none"><text textLength="100" lengthAdjust="spacingAndGlyphs" class="k">Y</text></svg>
<svg x="2612" y="1008" width="80" height="42" viewBox="0 -69 100 69" preserveAspectRatio="none"><text textLength="100" lengthAdjust="spacingAndGlyphs" class="g">H</text></svg>
<svg x="2612" y="1054" width="80" height="10" viewBox="0 -69 100 69" preserveAspectRatio="none"><text textLength="100" lengthAdjust="spacingAndGlyphs" class="k">F</text></svg>
<svg x="2612" y="1066" width="80" height="2" viewBox="0 -69 100 69" preserveAspectRatio="none"><text textLength="100" lengthAdjust="spacingAndGlyphs" class="k">E</text></svg>
<svg x="2702" y="524" width="80" height="504" viewBox="0 -69 100 69" preserveAspectRatio="none"><text textLength="100" lengthAdjust="spacingAndGlyphs" class="k">W</text></svg>
<svg x="2702" y="1032" width="80" height="15" viewBox="0 -69 100 69" preserveAspectRatio="none"><text textLength="100" lengthAdjust="spacingAndGlyphs" class="k">Y</text></svg>
<svg x="2702" y="1052" width="80" height="14" viewBox="0 -69 100 69" preserveAspectRatio="none"><text textLength="100" lengthAdjust="spacingAndGlyphs" class="g">A</text></svg>
<svg x="2702" y="1070" width="80" height="8" viewBox="0 -69 100 69" preserveAspectRatio="none"><text textLength="100" lengthAdjust="spacingAndGlyphs" class="k">F</text></svg>
<svg x="2792" y="966" width="80" height="35" viewBox="0 -69 100 69" preserveAspectRatio="none"><text textLength="100" lengthAdjust="spacingAndGlyphs" class="b">N</text></svg>
<svg x="2792" y="1006" width="80" height="6" viewBox="0 -69 100 69" preserveAspectRatio="none"><text textLength="100" lengthAdjust="spacingAndGlyphs" class="g">H</text></svg>
<svg x="2792" y="1016" width="80" height="6" viewBox="0 -69 100 69" preserveAspectRatio="none"><text textLength="100" lengthAdjust="spacingAndGlyphs" class="g">T</text></svg>
<svg x="2792" y="1027" width="80" height="6" viewBox="0 -69 100 69" preserveAspectRatio="none"><rect y="-69" width="100" height="14"/><rect y="-14" width="100" height="14"/><text x="40" textLength="20" lengthAdjust="spacingAndGlyphs" class="k">I</text></svg>
<svg x="2792" y="1037" width="80" height="6" viewBox="0 -69 100 69" preserveAspectRatio="none"><text textLength="100" lengthAdjust="spacingAndGlyphs" class="k">L</text></svg>
<svg x="2792" y="1047" width="80" height="7" viewBox="0 -69 100 69" preserveAspectRatio="none"><text textLength="100" lengthAdjust="spacingAndGlyphs" class="b">N</text></svg>
<svg x="2882" y="863" width="80" height="97" viewBox="0 -69 100 69" preserveAspectRatio="none"><text textLength="100" lengthAdjust="spacingAndGlyphs" class="b">N</text></svg>
<svg x="2882" y="964" width="80" height="58" viewBox="0 -69 100 69" preserveAspectRatio="none"><text textLength="100" lengthAdjust="spacingAndGlyphs" class="g">T</text></svg>
<svg x="2882" y="1027" width="80" height="18" viewBox="0 -69 100 69" preserveAspectRatio="none"><text textLength="100" lengthAdjust="spacingAndGlyphs" class="g">S</text></svg>
<svg x="2882" y="1049" width="80" height="13" viewBox="0 -69 100 69" preserveAspectRatio="none"><text textLength="100" lengthAdjust="spacingAndGlyphs" class="b">K</text></svg>
<svg x="2882" y="1066" width="80" height="4" viewBox="0 -69 100 69" preserveAspectRatio="none"><text textLength="100" lengthAdjust="spacingAndGlyphs" class="k">V</text></svg>
<svg x="2982" y="790" width="61" height="129" viewBox="0 -69 100 69" preserveAspectRatio="none"><text textLength="100" lengthAdjust="spacingAndGlyphs" class="k">Y</text></svg>
<svg x="2982" y="923" width="61" height="92" viewBox="0 -69 100 69" preserveAspectRatio="none"><text textLength="100" lengthAdjust="spacingAndGlyphs" class="g">H</text></svg>
<svg x="2982" y="1019" width="61" height="14" viewBox="0 -69 100 69" preserveAspectRatio="none"><text textLength="100" lengthAdjust="spacingAndGlyphs" class="b">Q</text></svg>
<svg x="2982" y="1040" width="61" height="7" viewBox="0 -69 100 69" preserveAspectRatio="none"><text textLength="100" lengthAdjust="spacingAndGlyphs" class="k">L</text></svg>
<svg x="2982" y="1050" width="61" height="4" viewBox="0 -69 100 69" preserveAspectRatio="none"><text textLength="100" lengthAdjust="spacingAndGlyphs" class="g">T</text></svg>
<svg x="2982" y="1058" width="61" height="4" viewBox="0 -69 100 69" preserveAspectRatio="none"><rect y="-69" width="100" height="15"/><rect y="-15" width="100" height="15"/><text x="40" textLength="20" lengthAdjust="spacingAndGlyphs" class="k">I</text></svg>
<svg x="2982" y="1068" width="61" height="4" viewBox="0 -69 100 69" preserveAspectRatio="none"><text textLength="100" lengthAdjust="spacingAndGlyphs" class="b">E</text></svg>
<svg x="3082" y="755" width="40" height="316" viewBox="0 -69 100 69" preserveAspectRatio="none"><text textLength="100" lengthAdjust="spacingAndGlyphs" class="k">L</text></svg>
<svg x="3082" y="1074" width="40" height="5" viewBox="0 -69 100 69" preserveAspectRatio="none"><text textLength="100" lengthAdjust="spacingAndGlyphs" class="k">M</text></svg>
</g>

<!-- thin lines -->
<g stroke-width="2">
<path d="M2292 360V500M2562 342V500M3822 336V500" stroke="#008000"/>
<path d="M2382 348V500M3012 334V500" stroke="#0000ff"/>
<path d="M2742 338V500M2832 342V500M3192 342V500M3282 320V500M3372 340V500M3462 312V500M3552 338V500M3642 346V500" stroke="#000"/>
<path d="M312 917V1072M1572 921V1078M1662 919V1078" stroke="#0000ff"/>
<path d="M402 935V1080" stroke="#000"/>
</g>

<!-- error bars -->
<path fill="none" stroke="#c0c0c0" stroke-width="5" d="
M312 174V201M301 174H323M301 201H323
M402 184V237M391 184H413M391 237H413
M492 393V427M481 393H503M481 427H503
M582 48V87M571 48H593M571 87H593
M672 212V250M661 212H683M661 250H683
M762 393V427M751 393H773M751 427H773
M852 244V293M841 244H863M841 293H863
M942 94V126M931 94H953M931 126H953
M1032 218V262M1021 218H1043M1021 262H1043
M1122 410V442M1111 410H1133M1111 442H1133
M1212 371V405M1201 371H1223M1201 405H1223
M1302 246V283M1291 246H1313M1291 283H1313
M1392 357V397M1381 357H1403M1381 397H1403
M1482 409V435M1471 409H1493M1471 435H1493
M1572 316V359M1561 316H1583M1561 359H1583
M1662 239V277M1651 239H1673M1651 277H1673
M1752 416V447M1741 416H1763M1741 447H1763
M1842 419V451M1831 419H1853M1831 451H1853
M1932 295V334M1921 295H1943M1921 334H1943
M2022 147V194M2011 147H2033M2011 194H2033
M2112 330V370M2101 330H2123M2101 370H2123
M2202 329V368M2191 329H2213M2191 368H2213
M2292 303V418M2281 303H2303M2281 418H2303
M2382 272V429M2371 272H2393M2371 429H2393
M2472 262V435M2461 262H2483M2461 435H2483
M2562 251V434M2551 251H2573M2551 434H2573
M2652 248V427M2641 248H2663M2641 427H2663
M2742 248V427M2731 248H2753M2731 427H2753
M2832 251V434M2821 251H2843M2821 434H2843
M2922 247V426M2911 247H2933M2911 426H2933
M3012 244V423M3001 244H3023M3001 423H3023
M3102 225V416M3091 225H3113M3091 416H3113
M3192 251V432M3181 251H3203M3181 432H3203
M3282 225V416M3271 225H3293M3271 416H3293
M3372 250V430M3361 250H3383M3361 430H3383
M3462 210V414M3451 210H3473M3451 414H3473
M3552 249V428M3541 249H3563M3541 428H3563
M3642 252V438M3631 252H3653M3631 438H3653
M3732 221V415M3721 221H3743M3721 415H3743
M3822 247V426M3811 247H3833M3811 426H3833
M312 825V1005M301 825H323M301 1005H323
M402 848V1020M391 848H413M391 1020H413
M492 889V999M481 889H503M481 999H503
M582 912V1003M571 912H593M571 1003H593
M672 903V949M661 903H683M661 949H683
M762 458V632M751 469H773M751 632H773
M852 937V974M841 937H863M841 974H863
M942 1009V1036M931 1009H953M931 1036H953
M1032 788V824M1021 788H1043M1021 824H1043
M1122 830V868M1111 830H1133M1111 868H1133
M1212 961V996M1201 961H1223M1201 996H1223
M1302 982V1012M1291 982H1313M1291 1012H1313
M1392 918V955M1381 918H1403M1381 955H1403
M1482 867V911M1471 867H1493M1471 911H1493
M1572 831V1012M1561 831H1583M1561 1012H1583
M1662 829V1009M1651 829H1673M1651 1009H1673
M1752 765V837M1741 765H1763M1741 837H1763
M1842 904V950M1831 904H1853M1831 950H1853
M1932 684V719M1921 684H1943M1921 719H1943
M2022 776V820M2011 776H2033M2011 820H2033
M2112 866V909M2101 866H2123M2101 909H2123
M2202 817V861M2191 817H2213M2191 861H2213
M2292 885V919M2281 885H2303M2281 919H2303
M2382 712V748M2371 712H2393M2371 748H2393
M2472 816V855M2461 816H2483M2461 855H2483
M2562 856V901M2551 856H2573M2551 901H2573
M2652 804V844M2641 804H2663M2641 844H2663
M2742 524V633M2731 544H2753M2731 633H2753
M2832 949V986M2821 949H2843M2821 986H2843
M2922 844V882M2911 844H2933M2911 882H2933
M3012 767V813M3001 767H3023M3001 813H3023
M3102 730V779M3091 730H3113M3091 779H3113"/>
<!-- gaps -->
<path fill="none" stroke="#fff" stroke-width="6" d="M2382 343V348M2472 341V358M2562 335V342M2652 328V346M2742 329V338M2832 335V342M2922 328V346M3012 325V334M3102 312V330M3192 335V342M3282 312V320M3372 332V340M3462 303V312M3552 330V338M3642 338V346M3732 308V328M3822 328V336M312 907V917M402 927V935M1572 915V921M1662 912V919"/>

<!-- axes -->
<g stroke="#000" fill="none">
<path stroke-width="5" d="M263 52V502M261 500H3865M263 634V1085M261 1083H3146"/>
<path stroke-width="4" d="M220 500H263M220 395.7H263M220 291.4H263M220 187.1H263M220 82.8H263
M242 479.1H263M242 458.3H263M242 437.4H263M242 416.6H263M242 374.8H263M242 354H263M242 333.1H263M242 312.3H263M242 270.5H263M242 249.7H263M242 228.8H263M242 208H263M242 166.2H263M242 145.4H263M242 124.5H263M242 103.7H263
M220 1083H263M220 979.3H263M220 875.5H263M220 771.8H263M220 668H263
M242 1062.3H263M242 1041.5H263M242 1020.8H263M242 1000H263M242 958.5H263M242 937.8H263M242 917H263M242 896.3H263M242 854.8H263M242 834H263M242 813.3H263M242 792.5H263M242 751H263M242 730.3H263M242 709.5H263M242 688.8H263"/>
<path stroke-width="3" d="M312 500V510M402 500V510M492 500V510M582 500V510M672 500V520M762 500V510M852 500V510M942 500V510M1032 500V510M1122 500V520M1212 500V510M1302 500V510M1392 500V510M1482 500V510M1572 500V520M1662 500V510M1752 500V510M1842 500V510M1932 500V510M2022 500V520M2112 500V510M2202 500V510M2292 500V510M2382 500V510M2472 500V520M2562 500V510M2652 500V510M2742 500V510M2832 500V510M2922 500V520M3012 500V510M3102 500V510M3192 500V510M3282 500V510M3372 500V520M3462 500V510M3552 500V510M3642 500V510M3732 500V510M3822 500V520
M312 1083V1093M402 1083V1093M492 1083V1093M582 1083V1093M672 1083V1103M762 1083V1093M852 1083V1093M942 1083V1093M1032 1083V1093M1122 1083V1103M1212 1083V1093M1302 1083V1093M1392 1083V1093M1482 1083V1093M1572 1083V1103M1662 1083V1093M1752 1083V1093M1842 1083V1093M1932 1083V1093M2022 1083V1103M2112 1083V1093M2202 1083V1093M2292 1083V1093M2382 1083V1093M2472 1083V1103M2562 1083V1093M2652 1083V1093M2742 1083V1093M2832 1083V1093M2922 1083V1103M3012 1083V1093M3102 1083V1093"/>
</g>

<g class="ax" text-anchor="end">
<text x="213" y="107" textLength="87" lengthAdjust="spacingAndGlyphs">4.0</text>
<text x="213" y="211" textLength="87" lengthAdjust="spacingAndGlyphs">3.0</text>
<text x="213" y="315" textLength="87" lengthAdjust="spacingAndGlyphs">2.0</text>
<text x="213" y="420" textLength="87" lengthAdjust="spacingAndGlyphs">1.0</text>
<text x="213" y="524" textLength="87" lengthAdjust="spacingAndGlyphs">0.0</text>
<text x="213" y="692" textLength="87" lengthAdjust="spacingAndGlyphs">4.0</text>
<text x="213" y="796" textLength="87" lengthAdjust="spacingAndGlyphs">3.0</text>
<text x="213" y="900" textLength="87" lengthAdjust="spacingAndGlyphs">2.0</text>
<text x="213" y="1003" textLength="87" lengthAdjust="spacingAndGlyphs">1.0</text>
<text x="213" y="1107" textLength="87" lengthAdjust="spacingAndGlyphs">0.0</text>
</g>
<g class="ax" text-anchor="middle">
<text x="672" y="589">5</text>
<text x="1122" y="589" textLength="67" lengthAdjust="spacingAndGlyphs">10</text>
<text x="1572" y="589" textLength="67" lengthAdjust="spacingAndGlyphs">15</text>
<text x="2022" y="589" textLength="67" lengthAdjust="spacingAndGlyphs">20</text>
<text x="2472" y="589" textLength="67" lengthAdjust="spacingAndGlyphs">25</text>
<text x="2922" y="589" textLength="67" lengthAdjust="spacingAndGlyphs">30</text>
<text x="3372" y="589" textLength="67" lengthAdjust="spacingAndGlyphs">35</text>
<text x="3822" y="589" textLength="67" lengthAdjust="spacingAndGlyphs">40</text>
<text x="672" y="1172" textLength="67" lengthAdjust="spacingAndGlyphs">45</text>
<text x="1122" y="1172" textLength="67" lengthAdjust="spacingAndGlyphs">50</text>
<text x="1572" y="1172" textLength="67" lengthAdjust="spacingAndGlyphs">55</text>
<text x="2022" y="1172" textLength="67" lengthAdjust="spacingAndGlyphs">60</text>
<text x="2472" y="1172" textLength="67" lengthAdjust="spacingAndGlyphs">65</text>
<text x="2922" y="1172" textLength="67" lengthAdjust="spacingAndGlyphs">70</text>
</g>
<text transform="translate(102,275) rotate(-90)" text-anchor="middle" font-size="88" textLength="128" lengthAdjust="spacingAndGlyphs">bits</text>
<text transform="translate(102,857) rotate(-90)" text-anchor="middle" font-size="88" textLength="128" lengthAdjust="spacingAndGlyphs">bits</text>
<text x="3571" y="1233" font-size="46" textLength="294" lengthAdjust="spacingAndGlyphs">WebLogo 3.4</text>
</svg>
</body></html>
